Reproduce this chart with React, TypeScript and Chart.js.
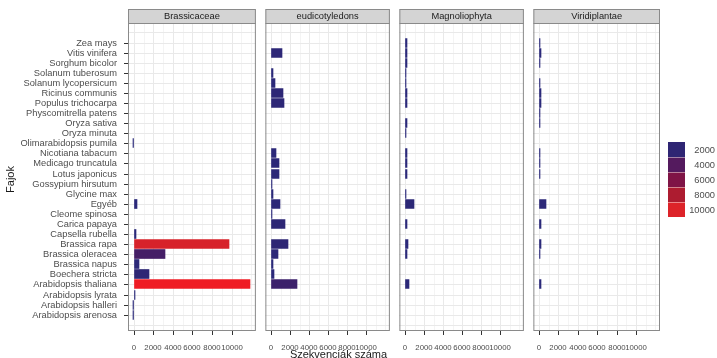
import React, { useEffect, useRef } from 'react';
import { Chart, registerables } from 'chart.js';

Chart.register(...registerables);

// ---------------- DATA ----------------
// species, bottom row (index 0) to top row
const species = [
  'Arabidopsis arenosa', 'Arabidopsis halleri', 'Arabidopsis lyrata', 'Arabidopsis thaliana',
  'Boechera stricta', 'Brassica napus', 'Brassica oleracea', 'Brassica rapa',
  'Capsella rubella', 'Carica papaya', 'Cleome spinosa', 'Egyéb',
  'Glycine max', 'Gossypium hirsutum', 'Lotus japonicus', 'Medicago truncatula',
  'Nicotiana tabacum', 'Olimarabidopsis pumila', 'Oryza minuta', 'Oryza sativa',
  'Physcomitrella patens', 'Populus trichocarpa', 'Ricinus communis', 'Solanum lycopersicum',
  'Solanum tuberosum', 'Sorghum bicolor', 'Vitis vinifera', 'Zea mays',
];

const facetNames = ['Brassicaceae', 'eudicotyledons', 'Magnoliophyta', 'Viridiplantae'];

const brassicaceae = [60, 60, 170, 11900, 1600, 500, 3200, 9750, 200, null, null, 330, null, null, null, null, null, 50, null, null, null, null, null, null, null, null, null, null];
const eudicotyledons = [null, null, null, 2750, 330, 170, 690, 1800, null, 1500, 100, 980, 200, 120, 830, 830, 530, null, null, null, null, 1350, 1280, 400, 200, null, 1120, null];
const magnoliophyta = [null, null, null, 400, null, null, 170, 270, null, 230, null, 970, 70, null, 230, 230, 170, null, 80, 250, null, 250, 250, 100, 100, 170, 230, 170];
const viridiplantae = [null, null, null, 180, null, null, 90, 180, null, 160, null, 740, null, null, 110, 120, 110, null, null, 110, 140, 200, 200, 110, null, 110, 220, 110];

const facetValues = [brassicaceae, eudicotyledons, magnoliophyta, viridiplantae];

const xTickLabels = [0, 2000, 4000, 6000, 8000, 10000];
const xGridValues = [0, 1000, 2000, 3000, 4000, 5000, 6000, 7000, 8000, 9000, 10000, 11000, 12000];
const legendBreaks = [2000, 4000, 6000, 8000, 10000];

const xTitle = 'Szekvenciák száma';
const yTitle = 'Fajok';

// ---------------- STYLE ----------------
const FONT = '"Liberation Sans", Arial, Helvetica, sans-serif';
const colorStops: [number, string][] = [
  [0, '#2b2a7b'], [2000, '#2e2573'], [4000, '#541a5e'], [6000, '#7f1446'],
  [8000, '#ad1c30'], [10000, '#dd2329'], [12000, '#f01c24'],
];
const BORDER = '#8a8a8a';
const STRIP_FILL = '#d4d4d4';
const GRID_MAJOR = '#e9e9e9';
const GRID_MINOR = '#f4f4f4';
const TEXT = '#4d4d4d';

const X_MIN = -595;
const X_MAX = 12495;
const Y_MIN = -1.62;
const Y_MAX = 28.94;

const CANVAS_H = 358;
const PAD_TOP = 23;
const X_AXIS_H = 27;

// canvas layout for each facet
const layout = [
  { left: 0, w: 259, padL: 0, padR: 1, yW: 128 },
  { left: 261, w: 132, padL: 1, padR: 1, yW: 0 },
  { left: 395, w: 132, padL: 1, padR: 1, yW: 0 },
  { left: 529, w: 188, padL: 1, padR: 57, yW: 0 },
];

function hexToRgb(h: string) {
  const n = parseInt(h.slice(1), 16);
  return [(n >> 16) & 255, (n >> 8) & 255, n & 255];
}

function colorFor(v: number) {
  let i = 0;
  while (i < colorStops.length - 2 && v > colorStops[i + 1][0]) i++;
  const [v0, c0] = colorStops[i];
  const [v1, c1] = colorStops[i + 1];
  const t = Math.max(0, Math.min(1, (v - v0) / (v1 - v0)));
  const a = hexToRgb(c0);
  const b = hexToRgb(c1);
  const r = a.map((x, k) => Math.round(x + (b[k] - x) * t));
  return `rgb(${r[0]},${r[1]},${r[2]})`;
}

function buildConfig(idx: number, values: (number | null)[]) {
  const points = values
    .map((v, i) => (v == null ? null : { x: v, y: i }))
    .filter((p) => p !== null) as { x: number; y: number }[];
  const L = layout[idx];
  const rowTicks: number[] = [];
  for (let r = -1; r <= species.length; r++) rowTicks.push(r);

  const facetPlugin = {
    id: 'facet' + idx,
    afterDraw(chart: any) {
      const { ctx, chartArea: a } = chart;
      ctx.save();
      // panel border
      ctx.strokeStyle = BORDER;
      ctx.lineWidth = 1;
      ctx.strokeRect(a.left + 0.5, a.top + 0.5, a.right - a.left - 1, a.bottom - a.top - 1);
      // strip
      ctx.fillStyle = STRIP_FILL;
      ctx.fillRect(a.left, 9, a.right - a.left, a.top - 9);
      ctx.strokeRect(a.left + 0.5, 9.5, a.right - a.left - 1, a.top - 9);
      ctx.fillStyle = '#1a1a1a';
      ctx.font = `9.3px ${FONT}`;
      ctx.textAlign = 'center';
      ctx.textBaseline = 'middle';
      ctx.fillText(facetNames[idx], (a.left + a.right) / 2, 16.5);

      if (idx === 0) {
        ctx.save();
        ctx.translate(11, 179.5);
        ctx.rotate(-Math.PI / 2);
        ctx.font = `11px ${FONT}`;
        ctx.fillStyle = '#1a1a1a';
        ctx.textAlign = 'center';
        ctx.textBaseline = 'middle';
        ctx.fillText(yTitle, 0, 0);
        ctx.restore();
      }
      if (idx === 1) {
        ctx.font = `11px ${FONT}`;
        ctx.fillStyle = '#1a1a1a';
        ctx.textAlign = 'center';
        ctx.textBaseline = 'alphabetic';
        ctx.fillText(xTitle, 338.5 - L.left, 357.5);
      }
      if (idx === 3) {
        const bx = 668 - L.left;
        const by = 142;
        legendBreaks.forEach((b, k) => {
          ctx.fillStyle = colorFor(b);
          ctx.fillRect(bx, by + 15 * k, 17, 15);
        });
        ctx.strokeStyle = 'rgba(255,255,255,0.45)';
        for (let k = 1; k < legendBreaks.length; k++) {
          ctx.beginPath();
          ctx.moveTo(bx, by + 15 * k + 0.5);
          ctx.lineTo(bx + 17, by + 15 * k + 0.5);
          ctx.stroke();
        }
        ctx.fillStyle = TEXT;
        ctx.font = `9.3px ${FONT}`;
        ctx.textAlign = 'right';
        ctx.textBaseline = 'middle';
        legendBreaks.forEach((b, k) => {
          ctx.fillText(String(b), 715 - L.left, by + 15 * k + 8.5);
        });
      }
      ctx.restore();
    },
  };

  return {
    type: 'bar' as const,
    data: {
      datasets: [
        {
          data: points,
          backgroundColor: points.map((p) => colorFor(p.x)),
          borderWidth: 0,
          barThickness: 9,
          minBarLength: 1,
        },
      ],
    },
    options: {
      indexAxis: 'y' as const,
      animation: false as const,
      responsive: false,
      maintainAspectRatio: false,
      devicePixelRatio: 1,
      events: [] as any[],
      layout: { padding: { left: L.padL, right: L.padR, top: PAD_TOP, bottom: 0 } },
      plugins: {
        legend: { display: false },
        tooltip: { enabled: false },
        title: { display: false },
      },
      scales: {
        x: {
          type: 'linear' as const,
          min: X_MIN,
          max: X_MAX,
          offset: false,
          alignToPixels: true,
          afterBuildTicks: (s: any) => {
            s.ticks = xGridValues.map((v) => ({ value: v }));
          },
          afterFit: (s: any) => {
            s.height = X_AXIS_H;
          },
          ticks: {
            autoSkip: false,
            maxRotation: 0,
            minRotation: 0,
            padding: 8,
            color: TEXT,
            font: { family: FONT, size: 7.8 },
            callback: (v: any) => (xTickLabels.includes(Number(v)) ? String(v) : ''),
          },
          grid: {
            offset: false,
            color: (c: any) => (c.tick && xTickLabels.includes(c.tick.value) ? GRID_MAJOR : GRID_MINOR),
            lineWidth: 1,
            tickLength: 4,
            tickColor: (c: any) => (c.tick && xTickLabels.includes(c.tick.value) ? '#333333' : 'rgba(0,0,0,0)'),
          },
          border: { display: false },
        },
        y: {
          type: 'linear' as const,
          min: Y_MIN,
          max: Y_MAX,
          offset: false,
          alignToPixels: true,
          afterBuildTicks: (s: any) => {
            s.ticks = rowTicks.map((v) => ({ value: v }));
          },
          afterFit: (s: any) => {
            s.width = L.yW;
          },
          ticks: {
            display: idx === 0,
            autoSkip: false,
            padding: 7,
            color: TEXT,
            font: { family: FONT, size: 9.3 },
            callback: (v: any) => species[Number(v)] ?? '',
          },
          grid: {
            offset: false,
            color: GRID_MAJOR,
            lineWidth: 1,
            drawTicks: idx === 0,
            tickLength: 4,
            tickColor: (c: any) =>
              c.tick && c.tick.value >= 0 && c.tick.value < species.length ? '#333333' : 'rgba(0,0,0,0)',
          },
          border: { display: false },
        },
      },
    },
    plugins: [facetPlugin],
  };
}

export default function App() {
  const r0 = useRef<HTMLCanvasElement>(null);
  const r1 = useRef<HTMLCanvasElement>(null);
  const r2 = useRef<HTMLCanvasElement>(null);
  const r3 = useRef<HTMLCanvasElement>(null);
  const refs = [r0, r1, r2, r3];

  useEffect(() => {
    const charts = facetValues.map(
      (vals, i) => new Chart(refs[i].current as HTMLCanvasElement, buildConfig(i, vals) as any)
    );
    return () => charts.forEach((c) => c.destroy());
  }, []);

  return (
    <div style={{ position: 'absolute', left: 0, top: 0, width: 717, height: CANVAS_H, background: '#ffffff' }}>
      {layout.map((l, i) => (
        <canvas
          key={i}
          ref={refs[i]}
          width={l.w}
          height={CANVAS_H}
          style={{ position: 'absolute', left: l.left, top: 0, width: l.w, height: CANVAS_H }}
        />
      ))}
    </div>
  );
}
